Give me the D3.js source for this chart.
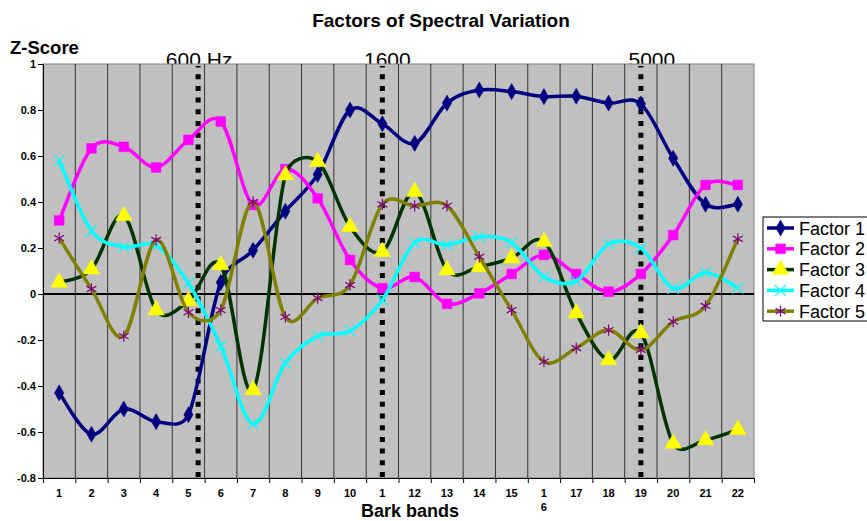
<!doctype html>
<html>
<head>
<meta charset="UTF-8">
<script src="https://d3js.org/d3.v7.min.js"></script>
<title>Factors of Spectral Variation</title>
<style>
  body { margin: 0; background: #fff; }
  text { font-family: "Liberation Sans", Arial, sans-serif; fill: #000; }
</style>
</head>
<body>
<div id="chart"></div>
<script>
// bark bands 1..22
var bands = d3.range(1, 23);
var xLabels = ["1","2","3","4","5","6","7","8","9","10","1","12","13","14","15","1\n6","17","18","19","20","21","22"];
var yTicks = [-0.8, -0.6, -0.4, -0.2, 0, 0.2, 0.4, 0.6, 0.8, 1];
var yTickLabels = ["-0.8","-0.6","-0.4","-0.2","0","0.2","0.4","0.6","0.8","1"];

var factor1 = [-0.43,-0.61,-0.50,-0.555,-0.525,0.05,0.19,0.36,0.52,0.80,0.74,0.655,0.83,0.887,0.88,0.858,0.86,0.83,0.826,0.59,0.39,0.39];
var factor2 = [0.32,0.633,0.64,0.55,0.67,0.75,0.387,0.543,0.416,0.148,0.025,0.074,-0.043,0.003,0.087,0.17,0.087,0.01,0.087,0.256,0.474,0.474];
var factor3 = [0.05,0.108,0.34,-0.07,-0.03,0.126,-0.417,0.517,0.575,0.293,0.184,0.445,0.104,0.119,0.156,0.227,-0.083,-0.287,-0.17,-0.65,-0.635,-0.59];
var factor4 = [0.58,0.275,0.205,0.21,0.047,-0.226,-0.565,-0.30,-0.183,-0.16,-0.026,0.223,0.213,0.249,0.223,0.075,0.056,0.217,0.199,0.025,0.093,0.026];
var factor5 = [0.243,0.022,-0.183,0.235,-0.08,-0.07,0.40,-0.10,-0.018,0.039,0.39,0.383,0.383,0.162,-0.07,-0.294,-0.235,-0.157,-0.243,-0.12,-0.052,0.24];

var seriesNames = ["Factor 1","Factor 2","Factor 3","Factor 4","Factor 5"];
var seriesValues = [factor1, factor2, factor3, factor4, factor5];

// frequency markers (position on the bark axis)
var markerPos = [5.3, 11, 19];
var markerLabels = ["600 Hz", "1600", "5000"];
var markerLabelDx = [1, 5, 11];

var w = 867, h = 521;
var pl = 43, pr = 754, pt = 64, pb = 478;

var lineColors = ["#000080", "#ff00ff", "#003300", "#00ffff", "#808000"];
var markFill = ["#000080", "#ff00ff", "#ffff00", "none", "none"];
var markStroke = ["#000080", "#ff00ff", "#ffff00", "#00ffff", "#800080"];
var markType = [d3.symbolDiamond, d3.symbolSquare, d3.symbolTriangle, d3.symbolTimes, d3.symbolAsterisk];
var markSize = [75, 95, 120, 80, 90];

var svg = d3.select("#chart").append("svg")
    .attr("width", w)
    .attr("height", h);

var x = d3.scaleLinear().domain([0.5, 22.5]).range([pl, pr]);
var y = d3.scaleLinear().domain([-0.8, 1]).range([pb, pt]);

// excel-like smoothing: bezier with 1/6 tangents, capped at half the segment
function smoothPath(pts) {
    var p = d3.path();
    function dist(a, b) { return Math.hypot(b[0] - a[0], b[1] - a[1]); }
    p.moveTo(pts[0][0], pts[0][1]);
    for (var i = 0; i < pts.length - 1; i++) {
        var p0 = pts[Math.max(i - 1, 0)], p1 = pts[i], p2 = pts[i + 1], p3 = pts[Math.min(i + 2, pts.length - 1)];
        var d12 = dist(p1, p2), d02 = dist(p0, p2), d13 = dist(p1, p3);
        var f1 = d02 > 0 ? Math.min(1 / 6, d12 / (2 * d02)) : 0;
        var f2 = d13 > 0 ? Math.min(1 / 6, d12 / (2 * d13)) : 0;
        p.bezierCurveTo(
            p1[0] + (p2[0] - p0[0]) * f1, p1[1] + (p2[1] - p0[1]) * f1,
            p2[0] - (p3[0] - p1[0]) * f2, p2[1] - (p3[1] - p1[1]) * f2,
            p2[0], p2[1]);
    }
    return p.toString();
}

// title + axis titles
svg.append("text")
    .attr("x", 441).attr("y", 27)
    .attr("text-anchor", "middle")
    .style("font-weight", "bold").style("font-size", "19px")
    .text("Factors of Spectral Variation");

svg.append("text")
    .attr("x", 10).attr("y", 54)
    .style("font-weight", "bold").style("font-size", "18.5px")
    .text("Z-Score");

svg.append("text")
    .attr("x", 410).attr("y", 517)
    .attr("text-anchor", "middle")
    .style("font-weight", "bold").style("font-size", "18px")
    .text("Bark bands");

// frequency labels sit behind the plot area (their bottoms get covered)
svg.selectAll(".flabel")
    .data(markerPos)
    .enter().append("text")
    .attr("class", "flabel")
    .attr("x", function(d, i) { return x(d) + markerLabelDx[i]; })
    .attr("y", 67)
    .attr("text-anchor", "middle")
    .style("font-size", "21px")
    .text(function(d, i) { return markerLabels[i]; });

// plot area
svg.append("rect")
    .attr("x", pl).attr("y", pt)
    .attr("width", pr - pl).attr("height", pb - pt)
    .attr("fill", "#c0c0c0")
    .attr("stroke", "#808080");

// vertical grid at band edges
svg.selectAll(".grid")
    .data(d3.range(1.5, 22.5, 1))
    .enter().append("line")
    .attr("x1", function(d) { return x(d); })
    .attr("x2", function(d) { return x(d); })
    .attr("y1", pt).attr("y2", pb)
    .attr("stroke", "#333")
    .attr("stroke-width", 1);

// y axis
var yAxis = d3.axisLeft(y)
    .tickValues(yTicks)
    .tickFormat(function(d, i) { return yTickLabels[i]; })
    .tickSize(5)
    .tickPadding(2);
var gy = svg.append("g").attr("transform", "translate(" + pl + ",0)").call(yAxis);
gy.select(".domain").attr("stroke", "#000");
gy.selectAll("text")
    .style("font-family", "Liberation Sans, Arial, sans-serif")
    .style("font-weight", "bold").style("font-size", "11px");

// x axis: ticks at band edges, labels at band centres
var xAxis = d3.axisBottom(x)
    .tickValues(d3.range(0.5, 23, 1))
    .tickFormat("")
    .tickSize(5);
var gx = svg.append("g").attr("transform", "translate(0," + pb + ")").call(xAxis);
gx.select(".domain").attr("stroke", "#000");

var xl = svg.selectAll(".xlab")
    .data(bands)
    .enter().append("text")
    .attr("class", "xlab")
    .attr("text-anchor", "middle")
    .style("font-weight", "bold").style("font-size", "11px");
xl.each(function(d, i) {
    var parts = xLabels[i].split("\n");
    var t = d3.select(this);
    parts.forEach(function(p, k) {
        t.append("tspan")
            .attr("x", x(d))
            .attr("y", 497 + k * 14)
            .text(p);
    });
});

// zero line
svg.append("line")
    .attr("x1", pl).attr("x2", pr)
    .attr("y1", y(0)).attr("y2", y(0))
    .attr("stroke", "#000").attr("stroke-width", 2);

// dotted frequency markers
svg.selectAll(".fline")
    .data(markerPos)
    .enter().append("line")
    .attr("x1", function(d) { return x(d); })
    .attr("x2", function(d) { return x(d); })
    .attr("y1", pb - 1).attr("y2", pt + 2)
    .attr("stroke", "#000")
    .attr("stroke-width", 5)
    .attr("stroke-dasharray", "5,6.7");

// series
seriesValues.forEach(function(vals, s) {
    var pts = vals.map(function(v, i) { return [x(bands[i]), y(v)]; });
    svg.append("path")
        .attr("d", smoothPath(pts))
        .attr("fill", "none")
        .attr("stroke", lineColors[s])
        .attr("stroke-width", 3.5);

    svg.selectAll(".m" + s)
        .data(vals)
        .enter().append("path")
        .attr("class", "m" + s)
        .attr("transform", function(d, i) { return "translate(" + x(bands[i]) + "," + y(d) + ")"; })
        .attr("d", d3.symbol().type(markType[s]).size(markSize[s]))
        .attr("fill", markFill[s])
        .attr("stroke", markStroke[s])
        .attr("stroke-width", s >= 3 ? 1.2 : 0.5);
});

// legend
var lg = svg.append("g").attr("transform", "translate(763,217)");
lg.append("rect")
    .attr("width", 110).attr("height", 104)
    .attr("fill", "#fff").attr("stroke", "#000");

var item = lg.selectAll(".item")
    .data(seriesNames)
    .enter().append("g")
    .attr("transform", function(d, i) { return "translate(0," + (11 + i * 20.8) + ")"; });

item.append("line")
    .attr("x1", 4).attr("x2", 31)
    .attr("stroke", function(d, i) { return lineColors[i]; })
    .attr("stroke-width", 3.5);
item.append("path")
    .attr("transform", "translate(17.5,0)")
    .attr("d", function(d, i) { return d3.symbol().type(markType[i]).size(markSize[i])(); })
    .attr("fill", function(d, i) { return markFill[i]; })
    .attr("stroke", function(d, i) { return markStroke[i]; })
    .attr("stroke-width", function(d, i) { return i >= 3 ? 1.2 : 0.5; });
item.append("text")
    .attr("x", 36).attr("y", 6.5)
    .style("font-size", "18px")
    .text(function(d) { return d; });
</script>
</body>
</html>
